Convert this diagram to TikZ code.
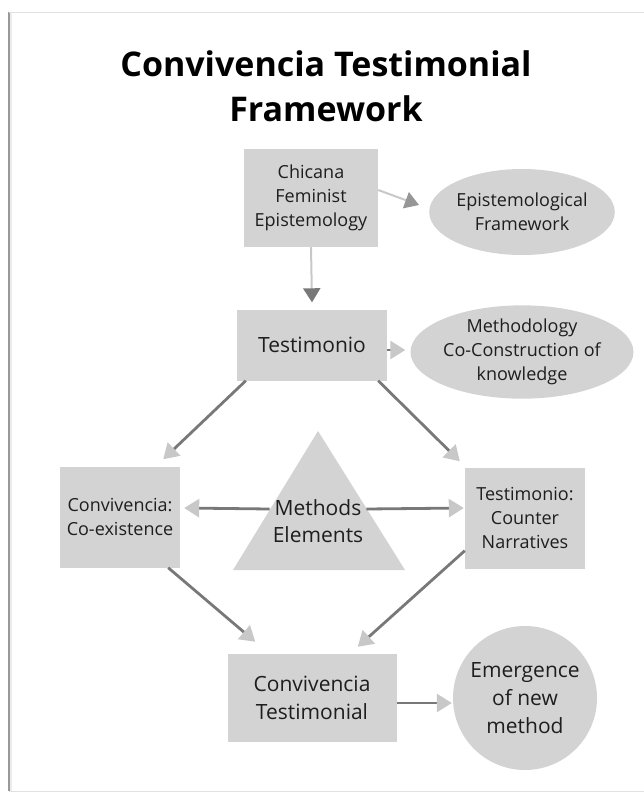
\documentclass[tikz,border=0pt]{standalone}
\usepackage{fontspec}
\setmainfont{Open Sans}
\usetikzlibrary{shapes.geometric,arrows.meta,positioning}
\definecolor{ctgray}{RGB}{211,211,211}
\definecolor{cttext}{RGB}{30,30,30}
\definecolor{ctline}{RGB}{120,120,120}
\definecolor{ctlight}{RGB}{200,200,200}
\definecolor{ctmid}{RGB}{150,150,150}
\definecolor{ctframe}{RGB}{225,225,225}

\begin{document}
\begin{tikzpicture}[
    x=1pt, y=1pt,
    box/.style={fill=ctgray, text=cttext, align=center, inner sep=2pt, font=\fontsize{18}{24}\selectfont},
    bigbox/.style={box, font=\fontsize{21}{28}\selectfont},
    oval/.style={ellipse, fill=ctgray, text=cttext, align=center, inner sep=0pt, minimum width=180pt, font=\fontsize{18}{24}\selectfont},
    arrow/.style={line width=2.8pt, ctline, -{Triangle[length=15pt, width=18pt, color=ctlight]}},
    thinarrow/.style={line width=2pt, ctlight, -{Triangle[length=14pt, width=17pt, color=#1]}},
    title/.style={align=center, font=\fontsize{34}{45}\selectfont\bfseries, text=black}
]
\useasboundingbox (0,0) rectangle (644,-793);

% Page frame
\draw[line width=4pt, black!8] (10,-12) -- (10,-791);
\draw[line width=1.2pt, black!40] (9,-12) -- (9,-791);
\draw[line width=1pt, ctframe] (644,-12) -- (9,-12);
\draw[line width=1pt, ctframe] (9,-791) -- (644,-791);

% Title
\node[title] (title) at (326,-86) {Convivencia Testimonial\\Framework};

% Top row
\node[box, minimum width=134pt, minimum height=98pt] (chicana) at (311,-198) {Chicana\\Feminist\\Epistemology};
\node[oval, minimum height=86pt] (epist) at (522,-212) {Epistemological\\Framework};

\node[bigbox, minimum width=150pt, minimum height=71pt] (testimonio) at (312,-345) {Testimonio};
\node[oval, minimum height=84pt] (method) at (522,-352) {Methodology\\Co-Construction of\\knowledge};

% Middle row
\node[box, minimum width=120pt, minimum height=101pt] (convivencia) at (120,-517) {Convivencia:\\Co-existence};
\node[box, minimum width=120pt, minimum height=101pt] (counter) at (525,-518) {Testimonio:\\Counter\\Narratives};

% Methods triangle
\fill[ctgray] (233,-570) -- (318,-431) -- (405,-570) -- cycle;
\node[text=cttext, align=center, inner sep=3pt, font=\fontsize{21}{27}\selectfont] (methods) at (318,-521) {Methods\\Elements};

% Bottom row
\node[bigbox, minimum width=169pt, minimum height=88pt] (convtest) at (312,-698) {Convivencia\\Testimonial};
\node[circle, fill=ctgray, text=cttext, align=center, minimum size=144pt, inner sep=0pt, font=\fontsize{21}{28}\selectfont] (emergence) at (525,-698) {Emergence\\of new\\method};

% Connect with arrows
\draw[thinarrow=ctmid] ([yshift=8pt]chicana.east) -- ([xshift=-10pt,yshift=7pt]epist.west);
\draw[thinarrow=ctline] (chicana.south) -- ([yshift=7pt]testimonio.north);
\draw[arrow] ([yshift=-5pt]testimonio.east) -- ([xshift=-5pt,yshift=2pt]method.west);

\draw[arrow] ([xshift=9pt]testimonio.south west) -- ([xshift=-17pt,yshift=7pt]convivencia.north east);
\draw[arrow] ([xshift=-9pt]testimonio.south east) -- ([xshift=-5pt,yshift=6pt]counter.north west);

\draw[arrow] ([yshift=12pt]methods.west) -- ([xshift=4pt,yshift=9pt]convivencia.east);
\draw[arrow] ([yshift=12pt]methods.east) -- ([xshift=-1pt,yshift=10pt]counter.west);

\draw[arrow] ([xshift=-12pt]convivencia.south east) -- ([xshift=28pt,yshift=12pt]convtest.north west);
\draw[arrow] ([yshift=18pt]counter.south west) -- ([xshift=-39pt,yshift=7pt]convtest.north east);

\draw[arrow] ([yshift=-5pt]convtest.east) -- ([xshift=-1pt,yshift=-5pt]emergence.west);

\end{tikzpicture}
\end{document}
